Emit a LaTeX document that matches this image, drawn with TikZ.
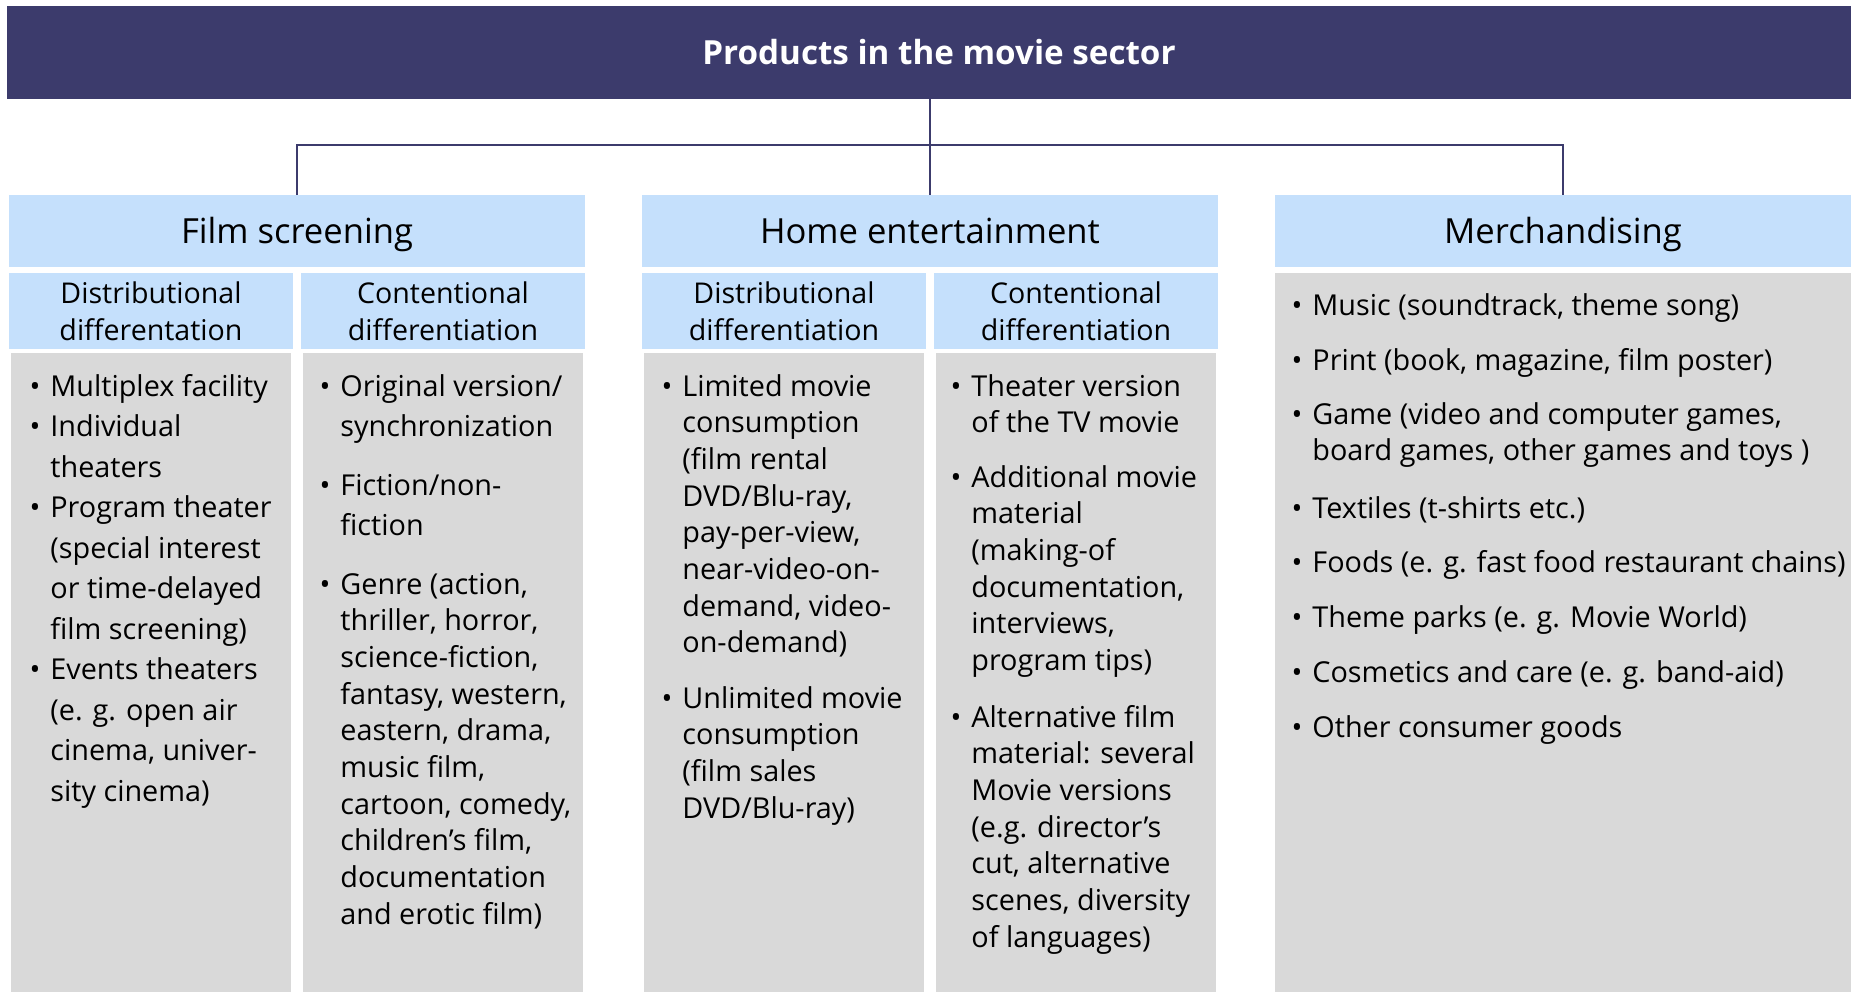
\documentclass[tikz,border=0pt]{standalone}
\usepackage{fontspec}
\setmainfont{Open Sans}
\usepackage{xcolor}
\usetikzlibrary{positioning}

\definecolor{barnavy}{RGB}{60,59,108}
\definecolor{headblue}{RGB}{197,224,252}
\definecolor{panelgray}{RGB}{217,217,217}

\newcommand{\blist}[1]{\begin{tabular}[t]{@{}l@{}}\llap{\textbullet\hspace{5pt}}#1\end{tabular}}

\begin{document}
\begin{tikzpicture}[
  x=0.5pt, y=-0.5pt,
  titlebar/.style={rectangle,fill=barnavy,text=white,font=\fontsize{16.6}{20}\selectfont\bfseries,
                   minimum width=932pt,minimum height=46.5pt,inner sep=0pt,
                   text height=11.9pt,text depth=0pt},
  head/.style={rectangle,fill=headblue,font=\fontsize{17.3}{20}\selectfont,
               minimum width=288pt,minimum height=36pt,inner sep=0pt,
               text height=12.4pt,text depth=0pt},
  sub/.style={rectangle,fill=headblue,align=center,font=\fontsize{14.3}{18.3}\selectfont,
              minimum width=142pt,minimum height=38pt,inner sep=0pt},
  itm/.style={anchor=base west,inner sep=0pt,font=\fontsize{14.4}{18.35}\selectfont},
  wide/.style={font=\fontsize{14.4}{20.25}\selectfont},
  conn/.style={draw=barnavy,line width=0.6pt}
]
\useasboundingbox (0,0) rectangle (1851,992);

\node[titlebar] (title) at (939,52.5) {Products in the movie sector};

\node[head] (film)  at (297,231)  {Film screening};
\node[head] (home)  at (930,231)  {Home entertainment};
\node[head] (merch) at (1563,231) {Merchandising};

\node[sub] (filmD) at (151,311)  {Distributional\\differentation};
\node[sub] (filmC) at (443,311)  {Contentional\\differentiation};
\node[sub] (homeD) at (784,311)  {Distributional\\differentiation};
\node[sub] (homeC) at (1076,311) {Contentional\\differentiation};

\fill[panelgray] (11,353) rectangle (291,992);
\fill[panelgray] (303,353) rectangle (583,992);
\fill[panelgray] (644,353) rectangle (924,992);
\fill[panelgray] (936,353) rectangle (1216,992);
\fill[panelgray] (1275,273) rectangle (1851,992);

\node[itm,wide] (fd1) at (50,396)   {\blist{Multiplex facility}};
\node[itm,wide] (fd2) at (50,436.5) {\blist{Individual\\theaters}};
\node[itm,wide] (fd3) at (50,517.5) {\blist{Program theater\\(special interest\\or time-delayed\\film screening)}};
\node[itm,wide] (fd4) at (50,679.5) {\blist{Events theaters\\(e. g. open air\\cinema, univer-\\sity cinema)}};

\node[itm,wide] (fc1) at (340,396) {\blist{Original version/\\synchronization}};
\node[itm,wide] (fc2) at (340,495) {\blist{Fiction/non-\\fiction}};
\node[itm]      (fc3) at (340,594) {\blist{Genre (action,\\thriller, horror,\\science-fiction,\\fantasy, western,\\eastern, drama,\\music film,\\cartoon, comedy,\\children’s film,\\documentation\\and erotic film)}};

\node[itm] (hd1) at (682,396) {\blist{Limited movie\\consumption\\(film rental\\DVD/Blu-ray,\\pay-per-view,\\near-video-on-\\demand, video-\\on-demand)}};
\node[itm] (hd2) at (682,708) {\blist{Unlimited movie\\consumption\\(film sales\\DVD/Blu-ray)}};

\node[itm] (hc1) at (971,396) {\blist{Theater version\\of the TV movie}};
\node[itm] (hc2) at (971,487) {\blist{Additional movie\\material\\(making-of\\documentation,\\interviews,\\program tips)}};
\node[itm] (hc3) at (971,727) {\blist{Alternative film\\material: several\\Movie versions\\(e.g. director’s\\cut, alternative\\scenes, diversity\\of languages)}};

\node[itm] (m1) at (1312,315) {\blist{Music (soundtrack, theme song)}};
\node[itm] (m2) at (1312,370) {\blist{Print (book, magazine, film poster)}};
\node[itm] (m3) at (1312,424) {\blist{Game (video and computer games,\\board games, other games and toys )}};
\node[itm] (m4) at (1312,518) {\blist{Textiles (t-shirts etc.)}};
\node[itm] (m5) at (1312,572) {\blist{Foods (e. g. fast food restaurant chains)}};
\node[itm] (m6) at (1312,627) {\blist{Theme parks (e. g. Movie World)}};
\node[itm] (m7) at (1312,682) {\blist{Cosmetics and care (e. g. band-aid)}};
\node[itm] (m8) at (1312,737) {\blist{Other consumer goods}};

\coordinate (hub) at (930,145);
\draw[conn] (home.north |- title.south) -- (home.north);
\draw[conn] (film.north) |- (hub) -| (merch.north);
\end{tikzpicture}
\end{document}
